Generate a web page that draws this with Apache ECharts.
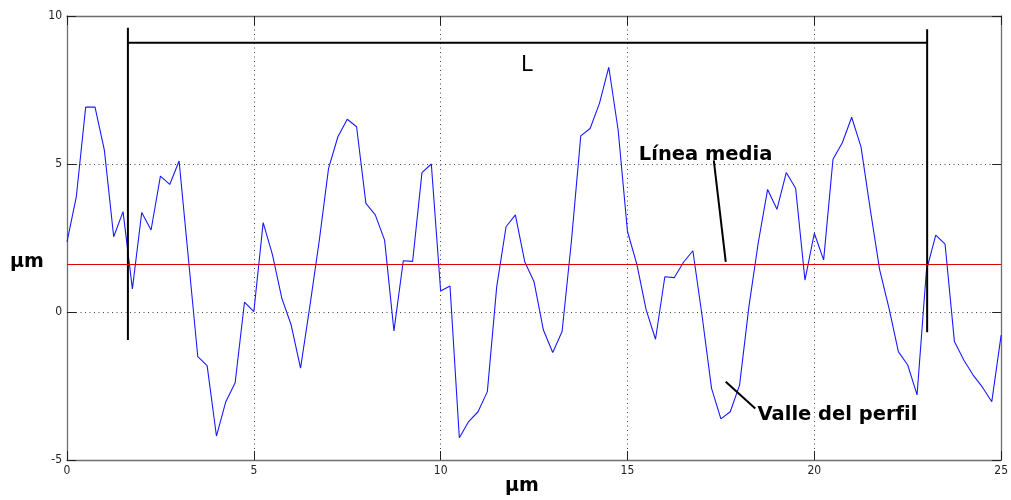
<!DOCTYPE html>
<html lang="es">
<head>
    <meta charset="UTF-8">
    <title>Perfil de rugosidad</title>
    <style>
        html, body { margin: 0; padding: 0; background: #fff; }
    </style>
</head>
<body>
<div id="main" style="width: 1011px;height:500px;"></div>

<script src="https://cdn.jsdelivr.net/npm/echarts@6/dist/echarts.min.js"></script>
<script>
    // muestras del perfil, una cada 0.25 µm (0 .. 25)
    var sampleStep = 0.25;
    var profile = [
        2.37, 3.9, 6.92, 6.92, 5.47, 2.54, 3.39, 0.78, 3.36, 2.77,
        4.59, 4.31, 5.1, 1.8, -1.51, -1.81, -4.19, -3.03, -2.39, 0.33,
        0.01, 3.02, 1.93, 0.46, -0.44, -1.9, 0.2, 2.4, 4.85, 5.92,
        6.51, 6.26, 3.67, 3.28, 2.43, -0.64, 1.73, 1.71, 4.71, 5.0,
        0.71, 0.88, -4.25, -3.7, -3.37, -2.69, 0.85, 2.88, 3.28, 1.7,
        1.02, -0.61, -1.37, -0.66, 2.4, 5.95, 6.2, 7.05, 8.27, 6.15,
        2.72, 1.62, 0.07, -0.92, 1.19, 1.16, 1.68, 2.07, -0.16, -2.58,
        -3.61, -3.37, -2.47, 0.18, 2.34, 4.14, 3.47, 4.71, 4.18, 1.08,
        2.66, 1.76, 5.16, 5.72, 6.58, 5.58, 3.45, 1.42, 0.12, -1.34,
        -1.79, -2.8, 1.4, 2.6, 2.29, -1.0, -1.62, -2.13, -2.54, -3.03,
        -0.78
    ];
    var meanLevel = 1.6;

    // ejes
    var xRange = [0, 25];
    var yRange = [-5, 10];
    var tickStep = 5;

    // cota L (en coordenadas de datos)
    var bracketLeft = [[1.63, -0.95], [1.63, 9.6]];
    var bracketRight = [[23.02, -0.68], [23.02, 9.55]];
    var bracketTop = [[1.63, 9.1], [23.02, 9.1]];

    // flechas de las etiquetas
    var meanPointer = [[17.31, 5.12], [17.63, 1.69]];
    var valleyPointer = [[17.63, -2.36], [18.42, -3.26]];

    // textos
    var labels = [
        { name: 'L', value: [12.31, 8.34], bold: false, size: 21 },
        { name: 'Línea media', value: [17.09, 5.3], bold: true, size: 19.5 },
        { name: 'Valle del perfil', value: [20.62, -3.48], bold: true, size: 19.5 }
    ];

    var tickFont = '"Liberation Sans Narrow", "DejaVu Sans Condensed", sans-serif';
    var boldFont = '"DejaVu Sans", sans-serif';

    function segment(points, width) {
        return {
            type: 'line',
            data: points,
            symbol: 'none',
            silent: true,
            z: 4,
            lineStyle: { color: '#000', width: width }
        };
    }

    function drawProfile() {
        var myChart = echarts.init(document.getElementById('main'));

        var profileData = [];
        for (var i = 0; i < profile.length; i++) {
            profileData.push([i * sampleStep, profile[i]]);
        }

        var gridLine = { show: true, lineStyle: { color: '#444', type: [1, 3.5], width: 1 } };
        var frameLine = { show: true, onZero: false, lineStyle: { color: '#6e6e6e', width: 1.3 } };
        var ticks = { show: true, inside: true, length: 9, lineStyle: { color: '#222' } };

        var option = {
            animation: false,
            grid: { left: 67, right: 8, top: 16, bottom: 40, containLabel: false },
            xAxis: [
                {
                    type: 'value', min: xRange[0], max: xRange[1], interval: tickStep,
                    axisLine: frameLine, axisTick: ticks, splitLine: gridLine,
                    axisLabel: { color: '#222', fontSize: 12, fontFamily: tickFont, margin: 5 }
                },
                {
                    type: 'value', position: 'top', min: xRange[0], max: xRange[1], interval: tickStep,
                    axisLine: frameLine, axisTick: ticks, splitLine: { show: false },
                    axisLabel: { show: false }
                }
            ],
            yAxis: [
                {
                    type: 'value', min: yRange[0], max: yRange[1], interval: tickStep,
                    axisLine: frameLine, axisTick: ticks, splitLine: gridLine,
                    axisLabel: { color: '#222', fontSize: 12, fontFamily: tickFont, margin: 5 }
                },
                {
                    type: 'value', position: 'right', min: yRange[0], max: yRange[1], interval: tickStep,
                    axisLine: frameLine, axisTick: ticks, splitLine: { show: false },
                    axisLabel: { show: false }
                }
            ],
            graphic: [
                {
                    type: 'text', left: 10, top: 253,
                    style: { text: 'µm', font: 'bold 19px ' + boldFont, fill: '#000' }
                },
                {
                    type: 'text', left: 505, top: 477,
                    style: { text: 'µm', font: 'bold 19px ' + boldFont, fill: '#000' }
                }
            ],
            series: [
                {
                    name: 'perfil',
                    type: 'line',
                    data: profileData,
                    symbol: 'none',
                    z: 3,
                    lineStyle: { color: '#1a1aff', width: 1.1 },
                    markLine: {
                        silent: true,
                        symbol: 'none',
                        label: { show: false },
                        lineStyle: { color: '#e00000', type: 'solid', width: 1 },
                        data: [{ yAxis: meanLevel }]
                    }
                },
                segment(bracketLeft, 2),
                segment(bracketRight, 2),
                segment(bracketTop, 2),
                segment(meanPointer, 2),
                segment(valleyPointer, 2),
                {
                    type: 'scatter',
                    symbolSize: 0,
                    silent: true,
                    z: 5,
                    data: labels.map(function (d) {
                        return {
                            name: d.name,
                            value: d.value,
                            label: {
                                show: true,
                                position: 'inside',
                                formatter: '{b}',
                                color: '#000',
                                opacity: 1,
                                textBorderWidth: 0,
                                fontSize: d.size,
                                fontWeight: d.bold ? 'bold' : 'normal',
                                fontFamily: boldFont
                            }
                        };
                    })
                }
            ]
        };

        myChart.setOption(option);
    }

    drawProfile();
</script>
</body>
</html>
